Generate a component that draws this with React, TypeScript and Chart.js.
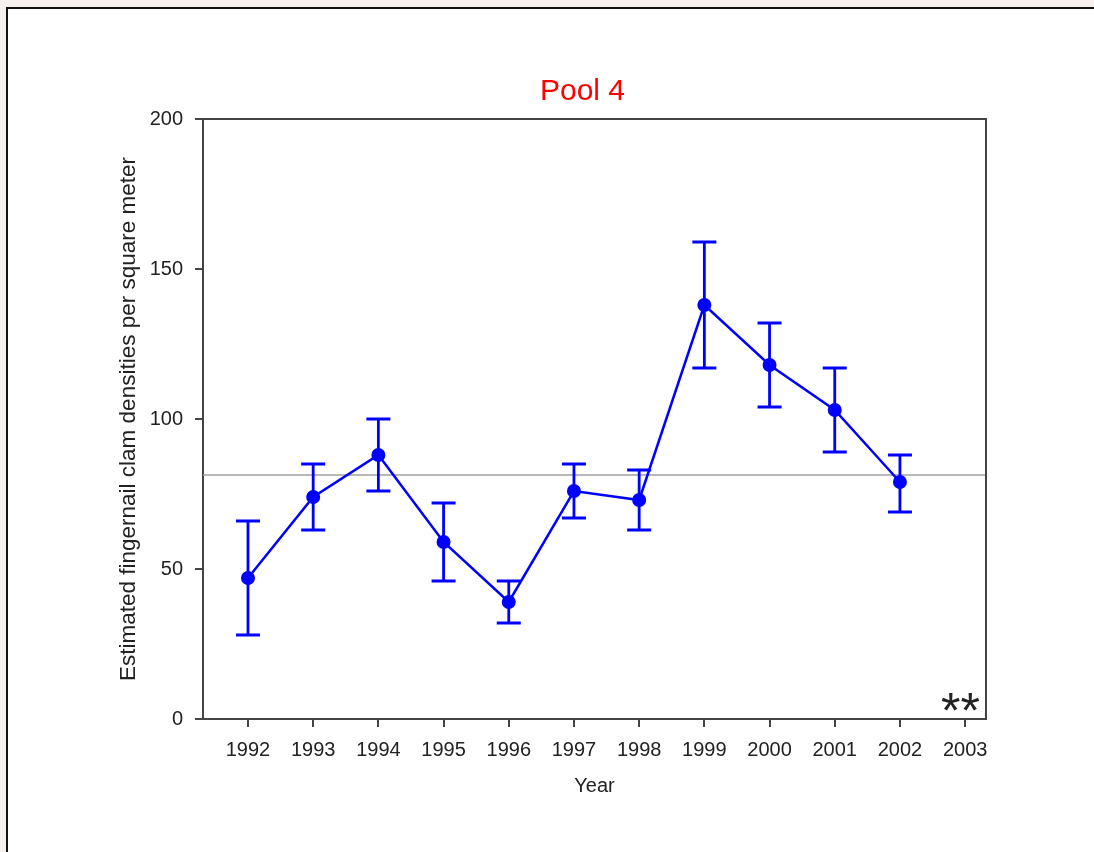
import React, { useEffect, useRef } from "react";
import { Chart, registerables } from "chart.js";

Chart.register(...registerables);

const YEARS = [1992, 1993, 1994, 1995, 1996, 1997, 1998, 1999, 2000, 2001, 2002];
const DENSITY = [47, 74, 88, 59, 39, 76, 73, 138, 118, 103, 79];
const LOWER = [28, 63, 76, 46, 32, 67, 63, 117, 104, 89, 69];
const UPPER = [66, 85, 100, 72, 46, 85, 83, 159, 132, 117, 88];
const X_TICKS = [1992, 1993, 1994, 1995, 1996, 1997, 1998, 1999, 2000, 2001, 2002, 2003];
const Y_TICKS = [0, 50, 100, 150, 200];
const MEAN_LINE = 81.3;
const TITLE = "Pool 4";
const X_TITLE = "Year";
const Y_TITLE = "Estimated fingernail clam densities per square meter";
const NOTE = "**";

const FONT = "'Liberation Sans', Arial, sans-serif";
const BLUE = "#0000ff";
const AXIS = "#444444";

const decorPlugin = {
  id: "decor",
  beforeDatasetsDraw(chart: any) {
    const { ctx, chartArea, scales } = chart;
    const y = scales.y.getPixelForValue(MEAN_LINE);
    ctx.save();
    ctx.strokeStyle = "#a0a0a0";
    ctx.lineWidth = 1.5;
    ctx.beginPath();
    ctx.moveTo(chartArea.left, y);
    ctx.lineTo(chartArea.right, y);
    ctx.stroke();
    // error bars
    ctx.strokeStyle = BLUE;
    ctx.lineWidth = 2.8;
    const cap = 12;
    for (let i = 0; i < YEARS.length; i++) {
      const x = scales.x.getPixelForValue(YEARS[i]);
      const yl = scales.y.getPixelForValue(LOWER[i]);
      const yh = scales.y.getPixelForValue(UPPER[i]);
      ctx.beginPath();
      ctx.moveTo(x, yl);
      ctx.lineTo(x, yh);
      ctx.moveTo(x - cap, yl);
      ctx.lineTo(x + cap, yl);
      ctx.moveTo(x - cap, yh);
      ctx.lineTo(x + cap, yh);
      ctx.stroke();
    }
    ctx.restore();
  },
  afterDraw(chart: any) {
    const { ctx, chartArea } = chart;
    ctx.save();
    ctx.strokeStyle = AXIS;
    ctx.lineWidth = 2;
    ctx.beginPath();
    ctx.moveTo(chartArea.left, chartArea.top);
    ctx.lineTo(chartArea.right, chartArea.top);
    ctx.lineTo(chartArea.right, chartArea.bottom);
    ctx.stroke();
    // title
    ctx.fillStyle = "#ff0000";
    ctx.font = `30px ${FONT}`;
    ctx.textAlign = "center";
    ctx.textBaseline = "middle";
    ctx.fillText(TITLE, (chartArea.left + chartArea.right) / 2 - 12, chartArea.top - 27);
    // note
    ctx.fillStyle = "#222222";
    ctx.font = `50px ${FONT}`;
    ctx.textAlign = "right";
    ctx.textBaseline = "alphabetic";
    ctx.fillText(NOTE, chartArea.right - 6, chartArea.bottom + 9);
    ctx.restore();
  },
};

export default function App() {
  const ref = useRef<HTMLCanvasElement | null>(null);

  useEffect(() => {
    document.body.style.margin = "0";
    const canvas = ref.current;
    if (!canvas) return;
    const chart = new Chart(canvas, {
      type: "line",
      data: {
        datasets: [
          {
            data: YEARS.map((yr, i) => ({ x: yr, y: DENSITY[i] })),
            borderColor: BLUE,
            backgroundColor: BLUE,
            borderWidth: 2.5,
            pointRadius: 7,
            pointBackgroundColor: BLUE,
            pointBorderColor: BLUE,
            pointBorderWidth: 0,
            tension: 0,
          },
        ],
      },
      options: {
        responsive: false,
        animation: false,
        devicePixelRatio: 1,
        layout: { padding: { left: 111, right: 108, top: 119, bottom: 51 } },
        plugins: {
          legend: { display: false },
          tooltip: { enabled: false },
          title: { display: false },
        },
        scales: {
          x: {
            type: "linear",
            min: 1991.31,
            max: 2003.32,
            afterBuildTicks: (scale: any) => {
              scale.ticks = X_TICKS.map((v) => ({ value: v }));
            },
            afterFit: (scale: any) => {
              scale.height = 82;
            },
            ticks: {
              callback: (v: any) => String(v),
              color: "#222222",
              font: { family: FONT, size: 20 },
              padding: 11,
              maxRotation: 0,
              autoSkip: false,
            },
            grid: {
              drawOnChartArea: false,
              drawTicks: true,
              tickLength: 8,
              color: AXIS,
              lineWidth: 2,
            },
            border: { display: true, color: AXIS, width: 2 },
            title: {
              display: true,
              text: X_TITLE,
              color: "#222222",
              font: { family: FONT, size: 20 },
              padding: { top: 4, bottom: 3 },
            },
          },
          y: {
            min: 0,
            max: 200,
            afterBuildTicks: (scale: any) => {
              scale.ticks = Y_TICKS.map((v) => ({ value: v }));
            },
            afterFit: (scale: any) => {
              scale.width = 92;
            },
            ticks: {
              callback: (v: any) => String(v),
              color: "#222222",
              font: { family: FONT, size: 20 },
              padding: 12,
            },
            grid: {
              drawOnChartArea: false,
              drawTicks: true,
              tickLength: 8,
              color: AXIS,
              lineWidth: 2,
            },
            border: { display: true, color: AXIS, width: 2 },
            title: {
              display: true,
              text: Y_TITLE,
              color: "#222222",
              font: { family: FONT, size: 22.5 },
              padding: { top: 4, bottom: 4 },
            },
          },
        },
      },
      plugins: [decorPlugin],
    } as any);
    return () => chart.destroy();
  }, []);

  return (
    <div
      style={{
        position: "relative",
        width: 1094,
        height: 852,
        background: "#f6f1ee",
        overflow: "hidden",
      }}
    >
      <div
        style={{
          position: "absolute",
          left: 6,
          top: 7,
          width: 1200,
          height: 1000,
          background: "#ffffff",
          borderLeft: "2px solid #111111",
          borderTop: "2px solid #111111",
        }}
      />
      <canvas
        ref={ref}
        width={1094}
        height={852}
        style={{ position: "absolute", left: 0, top: 0, width: 1094, height: 852 }}
      />
    </div>
  );
}
